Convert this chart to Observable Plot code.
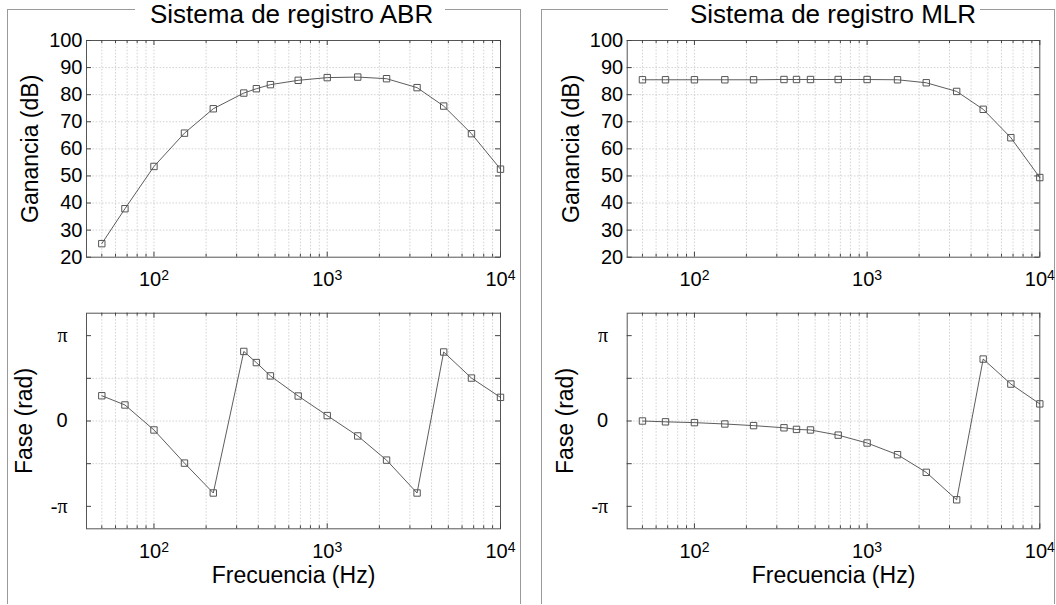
<!DOCTYPE html>
<html><head><meta charset="utf-8">
<script src="https://cdn.jsdelivr.net/npm/d3@7"></script>
<script src="https://cdn.jsdelivr.net/npm/@observablehq/plot@0.6"></script>
<style>
body{margin:0;background:#fff;}
#root{position:relative;width:1056px;height:605px;overflow:hidden;font-family:"Liberation Sans",Arial,sans-serif;background:#fff;}
.panel{position:absolute;border:1px solid #9a9a9a;border-bottom:none;box-sizing:border-box;}
.ptitle{position:absolute;background:#fff;font-size:26px;line-height:26px;color:#000;white-space:nowrap;}
.slot{position:absolute;}
</style></head><body><div id="root"></div>
<script>
// ---- data ----
const frequencies = [50, 68, 100, 150, 220, 330, 390, 470, 680, 1000, 1500, 2200, 3300, 4700, 6800, 10000];
const abrGain  = [25.0, 37.9, 53.5, 65.8, 74.8, 80.6, 82.2, 83.7, 85.3, 86.3, 86.5, 85.9, 82.6, 75.8, 65.6, 52.5];
const abrPhase = [0.93, 0.59, -0.33, -1.55, -2.65, 2.56, 2.15, 1.66, 0.92, 0.20, -0.55, -1.44, -2.65, 2.54, 1.58, 0.87];
const mlrGain  = [85.5, 85.5, 85.5, 85.5, 85.5, 85.6, 85.6, 85.6, 85.6, 85.6, 85.5, 84.4, 81.2, 74.6, 64.1, 49.4];
const mlrPhase = [0.00, -0.03, -0.06, -0.11, -0.17, -0.25, -0.31, -0.33, -0.52, -0.81, -1.24, -1.89, -2.90, 2.28, 1.36, 0.63];

const panelTitles = ["Sistema de registro ABR", "Sistema de registro MLR"];
const gainLabel = "Ganancia (dB)";
const phaseLabel = "Fase (rad)";
const freqLabel = "Frecuencia (Hz)";

const xDomain = [40.8, 10000];
const xMajorTicks = [100, 1000, 10000];
const xMinorTicks = [50, 60, 70, 80, 90, 200, 300, 400, 500, 600, 700, 800, 900, 2000, 3000, 4000, 5000, 6000, 7000, 8000, 9000];
const gainDomain = [20, 100];
const gainTicks = [20, 30, 40, 50, 60, 70, 80, 90, 100];
const phaseDomain = [-1.263 * Math.PI, 1.263 * Math.PI];
const phaseTicks = [-Math.PI, -Math.PI / 2, 0, Math.PI / 2, Math.PI];
const phaseTickLabels = ["-π", "", "0", "", "π"];

// ---- drawing ----
const root = document.getElementById("root");
const NS = "http://www.w3.org/2000/svg";

function addDiv(cls, css, text) {
  const d = document.createElement("div");
  d.className = cls;
  Object.assign(d.style, css);
  if (text) d.textContent = text;
  root.appendChild(d);
  return d;
}

// panel frames
addDiv("panel", {left: "7px", top: "9px", width: "514px", height: "595px"});
addDiv("panel", {left: "541px", top: "9px", width: "514px", height: "595px"});

function chart(o) {
  const pw = o.width - o.marginLeft - o.marginRight;
  const ph = o.height - o.marginTop - o.marginBottom;
  const rows = frequencies.map((f, i) => ({f, v: o.values[i]}));
  const grid = {stroke: "#c9c9c9", strokeWidth: 0.8, strokeDasharray: "1.6,1.6"};
  const tk = {stroke: "#444", strokeWidth: 1};
  const svg = Plot.plot({
    width: o.width, height: o.height,
    marginLeft: o.marginLeft, marginRight: o.marginRight,
    marginTop: o.marginTop, marginBottom: o.marginBottom,
    style: {background: "transparent", fontFamily: "'Liberation Sans', Arial, sans-serif", fontSize: "20px", color: "#000", overflow: "visible"},
    x: {type: "log", domain: xDomain},
    y: {domain: o.yDomain},
    marks: [
      Plot.ruleX(xMinorTicks.concat(xMajorTicks.slice(0, 2)), {x: d => d, ...grid}),
      Plot.ruleY(o.yTicks.slice(1, -1), {y: d => d, ...grid}),
      Plot.frame({stroke: "#555", strokeWidth: 1}),
      Plot.ruleX(xMajorTicks, {x: d => d, insetTop: ph - 5, ...tk}),
      Plot.ruleX(xMajorTicks, {x: d => d, insetBottom: ph - 5, ...tk}),
      Plot.ruleX(xMinorTicks, {x: d => d, insetTop: ph - 3, ...tk}),
      Plot.ruleX(xMinorTicks, {x: d => d, insetBottom: ph - 3, ...tk}),
      Plot.ruleY(o.yTicks, {y: d => d, insetRight: pw - 5, ...tk}),
      Plot.ruleY(o.yTicks, {y: d => d, insetLeft: pw - 5, ...tk}),
      Plot.line(rows, {x: "f", y: "v", stroke: "#333", strokeWidth: 0.8}),
      Plot.dot(rows, {x: "f", y: "v", symbol: "square", r: 3.6, stroke: "#555", strokeWidth: 1, fill: "none"}),
      Plot.axisX({ticks: xMajorTicks, tickFormat: d => "10^" + Math.round(Math.log10(d)), tickSize: 0, tickPadding: 15,
                  label: o.xLabel || null, labelAnchor: "center", labelOffset: 54, labelArrow: "none"}),
      Plot.axisY({ticks: o.yTicks, tickFormat: o.yFormat, tickSize: 0, tickPadding: o.tickPadding,
                  label: o.yLabel, labelAnchor: "center", labelOffset: o.labelOffset, labelArrow: "none"})
    ]
  });
  // superscript exponents on the log axis
  svg.querySelectorAll('g[aria-label="x-axis tick label"] text').forEach(t => {
    t.style.fontSize = "20px";
    const m = t.textContent.match(/^10\^(\d+)$/);
    if (!m) return;
    t.textContent = "";
    const a = document.createElementNS(NS, "tspan"); a.textContent = "10"; t.appendChild(a);
    const b = document.createElementNS(NS, "tspan"); b.textContent = m[1];
    b.setAttribute("dy", "-0.45em"); b.style.fontSize = "14px"; t.appendChild(b);
  });
  svg.querySelectorAll('g[aria-label="y-axis tick label"] text').forEach(t => {
    t.style.fontSize = "20px";
    if (t.textContent.includes("π")) t.style.fontFamily = "'Liberation Serif', 'DejaVu Serif', serif";
  });
  svg.querySelectorAll('g[aria-label="y-axis label"] text, g[aria-label="x-axis label"] text').forEach(t => {
    t.style.fontSize = "23px";
  });
  const slot = addDiv("slot", {left: o.left + "px", top: o.top + "px", width: o.width + "px", height: o.height + "px"});
  slot.appendChild(svg);
}

const gainFmt = d => String(d);
const phaseFmt = d => phaseTickLabels[phaseTicks.indexOf(d)] ?? "";

// left column (ABR)
chart({left: 0, top: 0, width: 520, height: 300, marginLeft: 86, marginRight: 20, marginTop: 40, marginBottom: 43.3,
       yDomain: gainDomain, yTicks: gainTicks, yFormat: gainFmt, tickPadding: 4, yLabel: gainLabel, labelOffset: 65, values: abrGain});
chart({left: 0, top: 300, width: 520, height: 305, marginLeft: 86, marginRight: 20, marginTop: 12.7, marginBottom: 76.7,
       yDomain: phaseDomain, yTicks: phaseTicks, yFormat: phaseFmt, tickPadding: 19, yLabel: phaseLabel, labelOffset: 71,
       xLabel: freqLabel, values: abrPhase});
// right column (MLR)
chart({left: 540, top: 0, width: 516, height: 300, marginLeft: 86.7, marginRight: 16.7, marginTop: 40, marginBottom: 43.3,
       yDomain: gainDomain, yTicks: gainTicks, yFormat: gainFmt, tickPadding: 4, yLabel: gainLabel, labelOffset: 65, values: mlrGain});
chart({left: 540, top: 300, width: 516, height: 305, marginLeft: 86.7, marginRight: 16.7, marginTop: 12.7, marginBottom: 76.7,
       yDomain: phaseDomain, yTicks: phaseTicks, yFormat: phaseFmt, tickPadding: 19, yLabel: phaseLabel, labelOffset: 71,
       xLabel: freqLabel, values: mlrPhase});

// panel titles (drawn over the frame's top border)
addDiv("ptitle", {left: "135px", top: "1px", padding: "0 12px 0 15px"}, panelTitles[0]);
addDiv("ptitle", {left: "668px", top: "1px", padding: "0 4px 0 22px"}, panelTitles[1]);
</script></body></html>
